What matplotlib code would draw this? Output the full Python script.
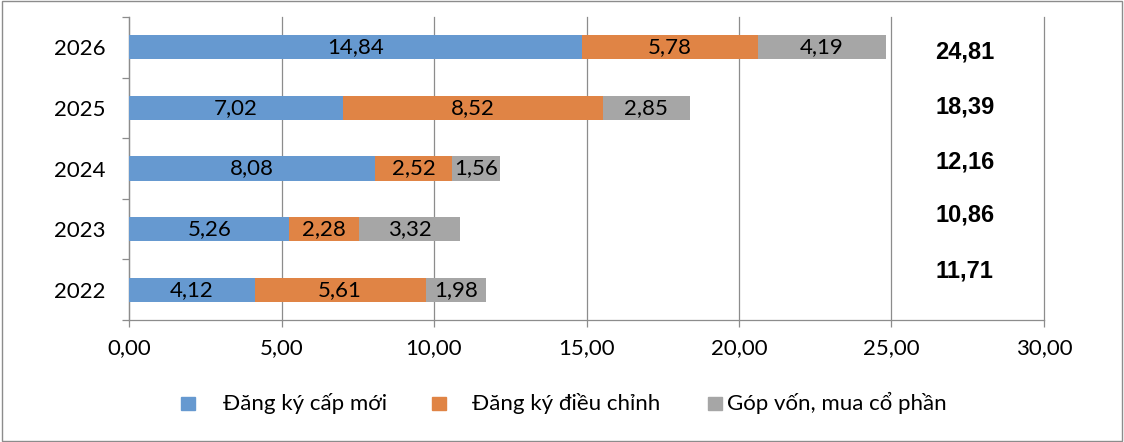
import numpy as np
import matplotlib.pyplot as plt
from matplotlib.patches import Rectangle

years = ["2022", "2023", "2024", "2025", "2026"]
new_reg = [4.12, 5.26, 8.08, 7.02, 14.84]      # Đăng ký cấp mới
adjusted = [5.61, 2.28, 2.52, 8.52, 5.78]      # Đăng ký điều chỉnh
shares = [1.98, 3.32, 1.56, 2.85, 4.19]        # Góp vốn, mua cổ phần
totals = [11.71, 10.86, 12.16, 18.39, 24.81]

labels = ["Đăng ký cấp mới", "Đăng ký điều chỉnh", "Góp vốn, mua cổ phần"]
colors = ["#6699D0", "#E08445", "#A6A6A6"]

plt.rcParams['font.family'] = ['Lato', 'Open Sans', 'DejaVu Sans']

fig = plt.figure(figsize=(11.24, 4.42), dpi=100)
ax = fig.add_axes([0.1148, 0.276, 0.8140, 0.6855])

y = np.arange(len(years))
left = np.zeros(len(years))
for vals, col in zip([new_reg, adjusted, shares], colors):
    bars = ax.barh(y, vals, left=left, height=0.4, color=col, zorder=3)
    for b, v in zip(bars, vals):
        ax.text(b.get_x() + b.get_width() / 2, b.get_y() + b.get_height() / 2,
                f"{v:.2f}".replace(".", ","), ha="center", va="center",
                fontsize=16, color="black", zorder=4)
    left += np.array(vals)

# totals sit a little off the bars, like in the original sheet
tot_dy = [0.31, 0.23, 0.10, 0.02, -0.07]
for yi, t, dy in zip(y, totals, tot_dy):
    ax.text(27.4, yi + dy, f"{t:.2f}".replace(".", ","), ha="center", va="center",
            fontsize=17, fontweight="bold", family="Liberation Sans")

ax.set_xlim(0, 30)
ax.set_ylim(-0.5, 4.5)
ax.set_xticks(np.arange(0, 31, 5))
ax.set_xticklabels([f"{v:.2f}".replace(".", ",") for v in np.arange(0, 31, 5)], fontsize=16)
ax.set_yticks(y)
ax.set_yticklabels(years, fontsize=16)
ax.set_yticks(np.arange(-0.5, 5, 1), minor=True)
ax.tick_params(axis="y", which="major", length=0, pad=17)
ax.tick_params(axis="y", which="minor", length=5, color="#8c8c8c", width=0.9)
ax.tick_params(axis="x", length=5, color="#8c8c8c", width=0.9, pad=8)
ax.grid(axis="x", color="#8c8c8c", linewidth=0.9, zorder=0)
for gl in ax.get_xgridlines():
    gl.set_clip_on(False)
for s in ["top", "right"]:
    ax.spines[s].set_visible(False)
for s in ["left", "bottom"]:
    ax.spines[s].set_color("#8c8c8c")
    ax.spines[s].set_linewidth(0.9)

# legend drawn by hand to keep Excel's uneven spacing
sq_x = [181, 432, 708]
txt_x = [223, 472, 727]
for sx, tx, col, lab in zip(sq_x, txt_x, colors, labels):
    fig.patches.append(Rectangle((sx / 1124, 1 - 410 / 442), 14 / 1124, 13 / 442,
                                 transform=fig.transFigure, color=col))
    fig.text(tx / 1124, 1 - 403 / 442, lab, fontsize=16, va="center", ha="left")

fig.patches.append(Rectangle((0.002, 0.003), 0.996, 0.994, transform=fig.transFigure,
                             fill=False, edgecolor="#8c8c8c", linewidth=1))

fig.savefig("out.png", dpi=100)
